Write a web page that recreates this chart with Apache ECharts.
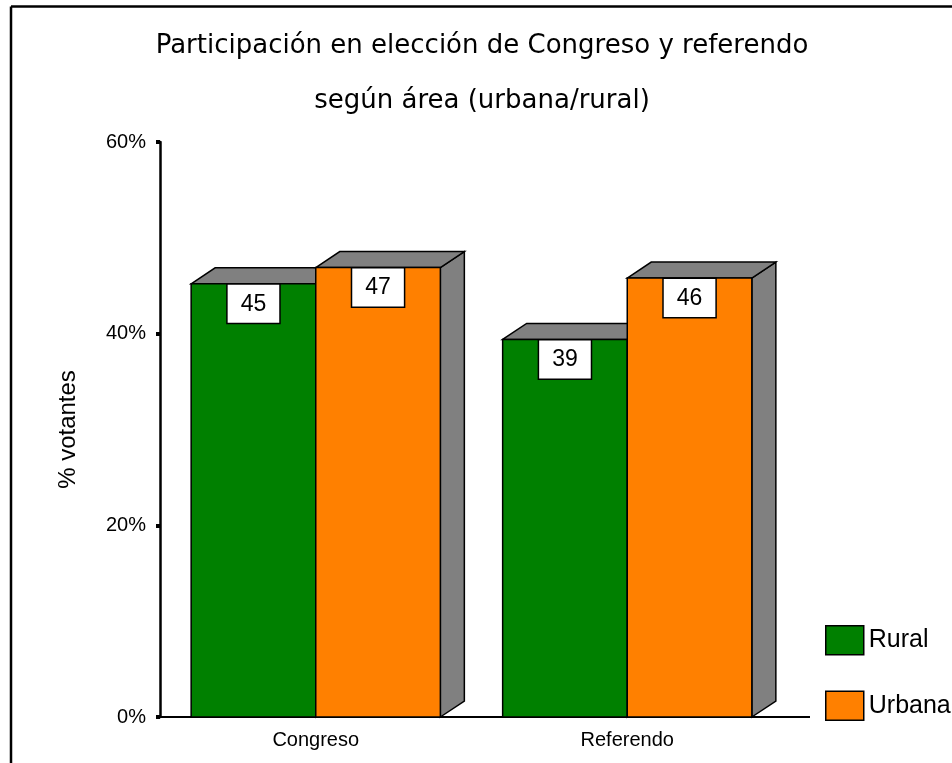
<!DOCTYPE html>
<html>
<head>
<meta charset="utf-8">
<script src="https://cdn.jsdelivr.net/npm/echarts@6/dist/echarts.min.js"></script>
<style>
html,body{margin:0;padding:0;background:#fff;}
#chart{width:952px;height:763px;}
</style>
</head>
<body>
<div id="chart"></div>
<script>
// ---- data ----
var categories = ['Congreso', 'Referendo'];
var seriesNames = ['Rural', 'Urbana'];
var rural = [45.2, 39.4];
var urbana = [46.9, 45.8];
var yTicks = [0, 20, 40, 60];
var titleLines = ['Participación en elección de Congreso y referendo', 'según área (urbana/rural)'];
var yAxisName = '% votantes';

var colors = ['#008000', '#FF8000'];
var sideColor = '#808080';
var DX = 24, DY = 16;
var BAR_FRAC = 0.4;
var FONT = 'Liberation Sans, Arial, sans-serif';
var TITLE_FONT = 'DejaVu Sans, Verdana, sans-serif';

function makeRender(seriesIdx) {
  return function (params, api) {
    var idx = api.value(0);
    var v = api.value(1);
    var base = api.coord([idx, 0]);
    var top = api.coord([idx, v]);
    var band = api.size([1, 0])[0];
    var bw = band * BAR_FRAC;
    var x0 = base[0] - bw + seriesIdx * bw;
    var x1 = x0 + bw;
    var yT = top[1], yB = base[1];
    var stroke = {stroke: '#000', lineWidth: 1.5, lineJoin: 'miter'};
    return {
      type: 'group',
      children: [
        {type: 'polygon', shape: {points: [[x1, yB], [x1 + DX, yB - DY], [x1 + DX, yT - DY], [x1, yT]]},
          style: Object.assign({fill: sideColor}, stroke)},
        {type: 'polygon', shape: {points: [[x0, yT], [x0 + DX, yT - DY], [x1 + DX, yT - DY], [x1, yT]]},
          style: Object.assign({fill: sideColor}, stroke)},
        {type: 'rect', shape: {x: x0, y: yT, width: bw, height: yB - yT},
          style: Object.assign({fill: colors[seriesIdx]}, stroke)},
        {type: 'text', x: (x0 + x1) / 2, y: yT + 1,
          style: {text: String(Math.round(v)), align: 'center', verticalAlign: 'top',
            fontSize: 23, fontFamily: FONT, fill: '#000',
            backgroundColor: '#fff', borderColor: '#000', borderWidth: 1.5,
            padding: [8, 13, 7, 13]}}
      ]
    };
  };
}

function toData(arr) { return arr.map(function (v, i) { return [i, v]; }); }

var chart = echarts.init(document.getElementById('chart'), null, {renderer: 'canvas'});
var option = {
  animation: false,
  backgroundColor: '#fff',
  title: [
    {text: titleLines[0], left: 482, top: 33, textAlign: 'center', padding: 0,
      textStyle: {fontSize: 26, fontWeight: 'normal', fontFamily: TITLE_FONT, color: '#000'}},
    {text: titleLines[1], left: 482, top: 88, textAlign: 'center', padding: 0,
      textStyle: {fontSize: 26, fontWeight: 'normal', fontFamily: TITLE_FONT, color: '#000'}}
  ],
  legend: {
    orient: 'vertical', left: 825, top: 625, padding: 0, itemWidth: 38, itemHeight: 29, itemGap: 35,
    icon: 'rect',
    textStyle: {fontSize: 25, fontFamily: FONT, color: '#000'},
    data: [
      {name: seriesNames[0], itemStyle: {color: colors[0], borderColor: '#000', borderWidth: 1.5}},
      {name: seriesNames[1], itemStyle: {color: colors[1], borderColor: '#000', borderWidth: 1.5}}
    ]
  },
  grid: {left: 160, top: 142, width: 623, height: 575},
  xAxis: {
    type: 'category', data: categories,
    axisLine: {lineStyle: {color: '#000', width: 2}},
    axisTick: {alignWithLabel: true, length: 5, lineStyle: {color: '#000', width: 4}},
    axisLabel: {fontSize: 20, fontFamily: FONT, color: '#000', margin: 13}
  },
  yAxis: {
    type: 'value', min: yTicks[0], max: yTicks[yTicks.length - 1], interval: 20,
    name: yAxisName, nameLocation: 'middle', nameGap: 80, nameRotate: 90,
    nameTextStyle: {fontSize: 24, fontFamily: FONT, color: '#000'},
    axisLine: {show: true, lineStyle: {color: '#000', width: 2.5}},
    axisTick: {show: true, length: 4, lineStyle: {color: '#000', width: 4}},
    splitLine: {show: false},
    axisLabel: {fontSize: 20, fontFamily: FONT, color: '#000', margin: 14,
      formatter: function (v) { return v + '%'; }}
  },
  series: [
    {name: seriesNames[0], type: 'custom', renderItem: makeRender(0), data: toData(rural),
      itemStyle: {color: colors[0]}, encode: {x: 0, y: 1}},
    {name: seriesNames[1], type: 'custom', renderItem: makeRender(1), data: toData(urbana),
      itemStyle: {color: colors[1]}, encode: {x: 0, y: 1}}
  ],
  graphic: [
    {type: 'line', shape: {x1: 11, y1: 6.5, x2: 952, y2: 6.5}, style: {stroke: '#000', lineWidth: 2.5}},
    {type: 'line', shape: {x1: 11, y1: 6.5, x2: 11, y2: 763}, style: {stroke: '#000', lineWidth: 2.5}},
    {type: 'line', shape: {x1: 783, y1: 717, x2: 810, y2: 717}, style: {stroke: '#000', lineWidth: 2}}
  ]
};
chart.setOption(option);
</script>
</body>
</html>
